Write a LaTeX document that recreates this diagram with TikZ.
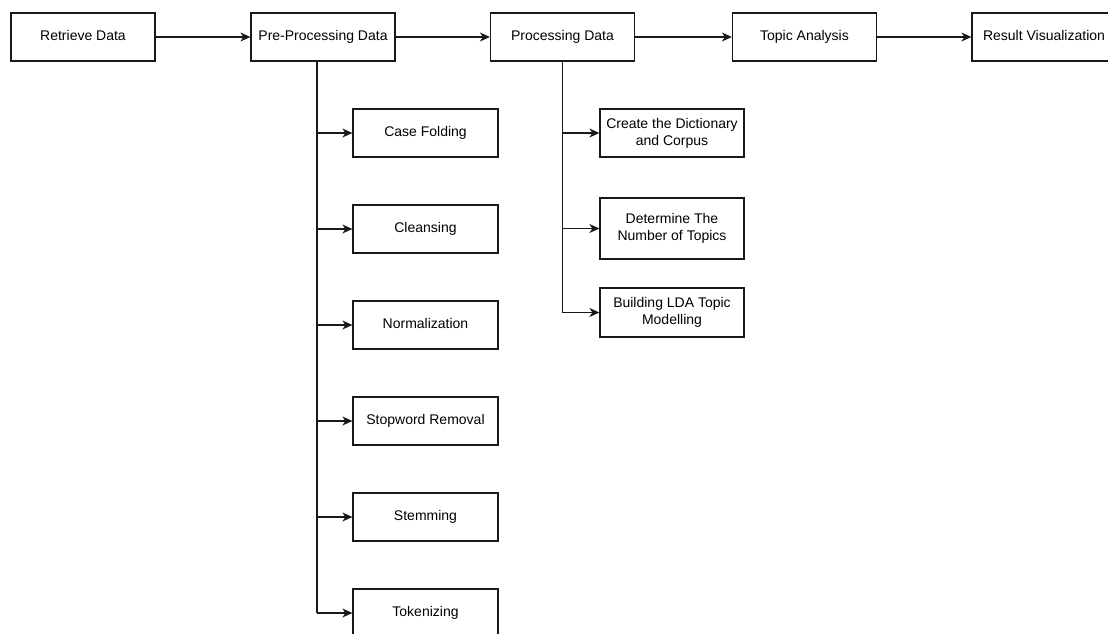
\documentclass[tikz,border=0pt]{standalone}
\usepackage{fontspec}
\setmainfont{Liberation Sans}
\usetikzlibrary{arrows.meta}

\tikzset{
  box/.style={draw=black!90, line width=1.2pt, fill=white, inner sep=2pt,
    align=center, font=\fontsize{14}{17}\selectfont,
    minimum height=48pt},
  oneline/.style={text height=10pt, text depth=3pt},
  topbox/.style={box, oneline, minimum width=144pt},
  subbox/.style={box, oneline, minimum width=145pt},
  twoline/.style={box, minimum width=144pt},
  link/.style={draw=black!90, line width=1.2pt},
  arr/.style={link, -{Stealth[length=10pt,width=9pt,inset=3pt]}}
}

\begin{document}
\begin{tikzpicture}[x=1pt, y=-1pt]
  \useasboundingbox (0,0) rectangle (1108,634);
  \clip (0,0) rectangle (1108,634);

  % main pipeline
  \node[topbox] (ret)  at (83,37)     {Retrieve Data};
  \node[topbox] (pre)  at (323,37)    {Pre-Processing Data};
  \node[topbox] (proc) at (562.5,37)  {Processing Data};
  \node[topbox] (top)  at (804.5,37)  {Topic Analysis};
  \node[topbox] (res)  at (1044,37)   {Result Visualization};

  \draw[arr] (ret) -- (pre);
  \draw[arr] (pre) -- (proc);
  \draw[arr] (proc) -- (top);
  \draw[arr] (top) -- (res);

  % pre-processing steps
  \node[subbox] (cf)  at (425.5,133) {Case Folding};
  \node[subbox] (cl)  at (425.5,229) {Cleansing};
  \node[subbox] (nm)  at (425.5,325) {Normalization};
  \node[subbox] (sw)  at (425.5,421) {Stopword Removal};
  \node[subbox] (st)  at (425.5,517) {Stemming};
  \node[subbox] (tk)  at (425.5,613) {Tokenizing};

  \coordinate (pt) at ([xshift=-6pt]pre.south);
  \draw[link] (pt) -- (pt |- tk.west);
  \foreach \n in {cf,cl,nm,sw,st,tk}
    \draw[arr] (pt |- \n.west) -- (\n.west);

  % processing steps
  \node[twoline] (dc) at (672,133)   {Create the Dictionary\\and Corpus};
  \node[twoline, minimum height=61pt] (nt) at (672,228.5) {Determine The\\Number of Topics};
  \node[twoline, minimum height=49pt] (lda) at (672,312.5) {Building LDA Topic\\Modelling};

  \coordinate (qt) at (proc.south);
  \draw[link] (qt) -- (qt |- lda.west);
  \foreach \n in {dc,nt,lda}
    \draw[arr] (qt |- \n.west) -- (\n.west);
\end{tikzpicture}
\end{document}
